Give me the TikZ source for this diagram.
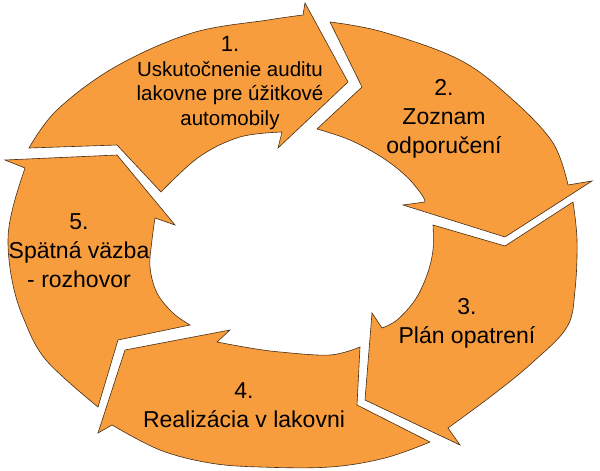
\documentclass[tikz,border=0pt]{standalone}
\usepackage{fontspec}
\setmainfont{Liberation Sans}
\definecolor{segfill}{RGB}{248,157,62}
\definecolor{segline}{RGB}{70,45,20}
\begin{document}
\begin{tikzpicture}[x=1pt,y=-1pt,
  seg/.style={fill=segfill,draw=segline,line width=0.6pt,line join=miter},
  crv/.style={smooth,tension=0.6},
  lbl/.style={anchor=base,align=center,inner sep=0pt,text=black,font=\fontsize{23}{29}\selectfont},
  lblsmall/.style={anchor=base,align=center,inner sep=0pt,text=black,font=\fontsize{20.5}{24.7}\selectfont}]
\useasboundingbox (0,0) rectangle (600,471);

% segment 1 (top)
\path[seg] (29,148) -- (117,145) -- (161,192)
  -- plot[crv] coordinates {(161,192) (199,157) (240,137) (282,132)}
  -- (278,148) -- (348,82) -- (305,3) -- (303,15)
  -- plot[crv] coordinates {(303,15) (268,20) (192,33) (115,67) (57,110) (29,148)}
  -- cycle;

% segment 2 (upper right)
\path[seg] (330,22) -- (362,87) -- (317,129)
  -- plot[crv] coordinates {(317,129) (350,140) (383,158) (407,177) (422,195) (425,202)}
  -- (403,205) -- (505,237) -- (592,181) -- (568,185)
  -- plot[crv] coordinates {(568,185) (553,143) (513,100) (460,60) (383,32) (330,22)}
  -- cycle;

% segment 3 (lower right)
\path[seg] (573,202) -- (505,246) -- (433,225)
  -- plot[crv] coordinates {(433,225) (433,250) (427,275) (415,300) (397,320) (382,328)}
  -- (372,313) -- (365,400) -- (460,445) -- (448,428)
  -- plot[crv] coordinates {(448,428) (494,394) (533,362) (567,327) (575,290) (577,240) (573,202)}
  -- cycle;

% segment 4 (bottom)
\path[seg] (360,347) -- (357,405) -- (430,442)
  -- plot[crv] coordinates {(430,442) (385,458) (330,467) (260,467) (210,463) (160,450) (112,425)}
  -- (98,433) -- (125,350) -- (230,330) -- (217,342)
  -- plot[crv] coordinates {(217,342) (250,348) (280,352) (330,355) (360,347)}
  -- cycle;

% segment 5 (left)
\path[seg] (190,325) -- (118,340) -- (98,407)
  -- plot[crv] coordinates {(98,407) (46,360) (23,317) (12,280) (8,240) (13,207) (25,168)}
  -- (5,160) -- (117,155) -- (175,225) -- (155,218)
  -- plot[crv] coordinates {(155,218) (152,240) (150,267) (157,293) (173,313) (190,325)}
  -- cycle;

% labels (anchor base = baseline of the last line)
\node[lblsmall] (t1) at (230,125.5) {{\fontsize{22}{24.7}\selectfont 1.}\\Uskutočnenie auditu\\lakovne pre úžitkové\\automobily};
\node[lbl] (t2) at (444,153) {2.\\Zoznam\\odporučení};
\node[lbl] (t3) at (467,343) {3.\\Plán opatrení};
\node[lbl] (t4) at (244,427) {4.\\Realizácia v lakovni};
\node[lbl] (t5) at (79,287) {5.\\Spätná väzba\\- rozhovor};
\end{tikzpicture}
\end{document}
